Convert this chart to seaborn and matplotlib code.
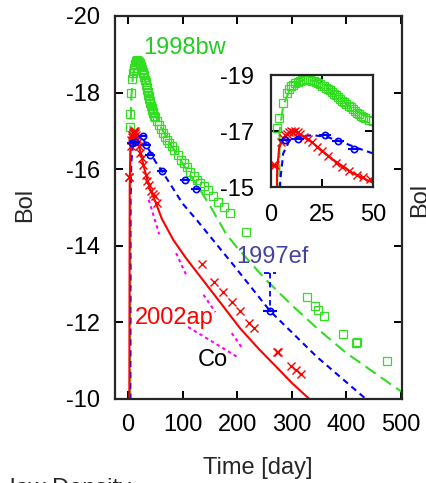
import numpy as np
import pandas as pd
import matplotlib
matplotlib.use('Agg')
import matplotlib.pyplot as plt
import seaborn as sns

sns.set_style('ticks')
plt.rcParams['font.family'] = ['Liberation Sans', 'DejaVu Sans']
plt.rcParams['axes.unicode_minus'] = False

# SN 1998bw (green squares + model)
bw_day = [3, 4, 6, 8, 9, 10, 11, 12, 13, 14, 15, 16, 17, 18, 19, 20, 21, 22, 23, 24,
          25, 26, 27, 28, 29, 30, 31, 32, 33, 34, 35, 36, 37, 38, 39, 40, 41, 42, 43, 44,
          45, 46, 48, 50, 53, 56, 60, 64, 68, 71, 75, 80, 85, 92, 97, 102, 108, 114, 120,
          126, 132, 140, 147, 155, 165, 175, 187, 216, 328, 342, 348, 359, 394, 418, 420, 474]
bw_mag = [-17.1, -17.45, -18.0, -18.35, -18.5, -18.6, -18.65, -18.72, -18.75, -18.8,
          -18.82, -18.82, -18.85, -18.83, -18.82, -18.8, -18.78, -18.75, -18.7, -18.68,
          -18.62, -18.6, -18.55, -18.5, -18.45, -18.4, -18.33, -18.28, -18.2, -18.15,
          -18.08, -18.02, -17.95, -17.9, -17.84, -17.78, -17.72, -17.66, -17.6, -17.55,
          -17.5, -17.46, -17.4, -17.35, -17.25, -17.15, -17.05, -16.95, -16.85, -16.76,
          -16.68, -16.6, -16.5, -16.37, -16.25, -16.15, -16.05, -15.93, -15.82, -15.72,
          -15.64, -15.55, -15.46, -15.3, -15.14, -15.0, -14.86, -14.36, -12.66, -12.43,
          -12.32, -12.17, -11.7, -11.46, -11.49, -11.0]
bw_model_day = [3.8, 4.2, 6, 9, 13, 17, 22, 28, 35, 42, 50, 60, 80, 100, 130, 150, 180,
                200, 250, 300, 350, 400, 450, 510]
bw_model_mag = [-8.0, -17.0, -17.9, -18.45, -18.75, -18.85, -18.78, -18.5, -18.1, -17.7,
                -17.4, -17.1, -16.6, -16.15, -15.5, -15.05, -14.3, -13.95, -13.15, -12.45,
                -11.8, -11.2, -10.7, -10.1]

# SN 2002ap (red crosses + model)
ap_day = [1, 2, 5, 6, 7, 8, 9, 10, 11, 12, 13, 14, 16, 18, 20, 22.5, 25, 28, 32, 35, 38,
          42, 45, 48.5, 53, 136, 158, 174, 190, 205, 222, 231, 272, 274, 298, 307, 316]
ap_mag = [-15.8, -15.8, -16.6, -16.75, -16.85, -16.9, -16.95, -17.0, -16.96, -17.0,
          -16.95, -16.9, -16.8, -16.72, -16.6, -16.43, -16.3, -16.12, -15.86, -15.7,
          -15.58, -15.43, -15.35, -15.29, -15.12, -13.52, -13.05, -12.8, -12.53, -12.3,
          -11.98, -11.85, -11.23, -11.22, -10.86, -10.76, -10.65]
ap_model_day = [2.0, 3, 4, 6, 8, 10, 13, 16, 20, 25, 30, 35, 40, 45, 50, 62, 83, 105,
                132, 170, 205, 240, 273, 300, 340]
ap_model_mag = [-8.0, -15.6, -16.4, -16.75, -16.9, -17.0, -16.95, -16.8, -16.6, -16.3,
                -16.0, -15.75, -15.5, -15.32, -15.15, -14.7, -14.15, -13.7, -13.2, -12.5,
                -11.85, -11.3, -10.82, -10.42, -9.9]

# SN 1997ef (blue circles + model)
ef_day = [7, 13, 26.5, 33, 40.6, 62, 104, 124, 260]
ef_mag = [-16.68, -16.72, -16.86, -16.64, -16.36, -15.95, -15.72, -15.48, -12.3]
ef_xerr_main = [9, 9, 9, 9, 9, 9, 9, 9, 12]
ef_xerr_inset = [3, 3, 3, 3, 3, 3, 3, 3, 3]
ef_model_day = [4, 4.5, 6, 9, 14, 20, 27, 35, 42, 50, 62, 80, 100, 126, 150, 193, 260,
                346, 440]
ef_model_mag = [-8.0, -15.2, -16.2, -16.65, -16.8, -16.85, -16.8, -16.6, -16.4, -16.2,
                -15.95, -15.55, -15.1, -14.67, -14.25, -13.5, -12.3, -11.1, -9.95]

# Co decay slope segments (magenta)
co_day0 = [38, 88, 138, 190, 110]
co_mag0 = [-15.2, -13.81, -12.72, -11.72, -11.88]
co_day1 = [57, 108, 160, 209, 200]
co_mag1 = [-14.3, -13.19, -12.27, -11.33, -11.1]

green = '#33dd22'
green_txt = '#22cc22'
red = '#ff0000'
blue = '#0000ff'
magenta = '#ff00ff'

bw = pd.DataFrame({'day': bw_day, 'mag': bw_mag})
ap = pd.DataFrame({'day': ap_day, 'mag': ap_mag})
ef = pd.DataFrame({'day': ef_day, 'mag': ef_mag})
bw_m = pd.DataFrame({'day': bw_model_day, 'mag': bw_model_mag})
ap_m = pd.DataFrame({'day': ap_model_day, 'mag': ap_model_mag})
ef_m = pd.DataFrame({'day': ef_model_day, 'mag': ef_model_mag})

fig = plt.figure(figsize=(4.26, 4.83), dpi=100)
ax = fig.add_axes([115/426, 84/483, 287/426, 383/483])
axi = fig.add_axes([271/426, 296/483, 102/426, 112/483])


def draw(a, xerr, ms):
    sns.lineplot(data=bw_m, x='day', y='mag', ax=a, color=green, lw=1.5,
                 linestyle=(0, (6, 3)), sort=False, estimator=None)
    sns.lineplot(data=ef_m, x='day', y='mag', ax=a, color=blue, lw=1.5,
                 linestyle=(0, (3, 2.2)), sort=False, estimator=None)
    sns.lineplot(data=ap_m, x='day', y='mag', ax=a, color=red, lw=1.5,
                 sort=False, estimator=None)
    a.plot(bw['day'], bw['mag'], 's', mfc='none', mec=green, ms=ms, mew=0.9)
    a.plot(ap['day'], ap['mag'], 'x', color=red, ms=ms, mew=1.0)
    a.errorbar(ef['day'], ef['mag'], xerr=xerr, fmt='o', mfc='none', mec=blue,
               ecolor=blue, ms=ms - 1, mew=1.2, elinewidth=1.5, capsize=0)


draw(ax, ef_xerr_main, 5.5)
draw(axi, ef_xerr_inset, 5.5)

# upper error on last 1997ef point
eb = ax.errorbar([ef_day[-1]], [ef_mag[-1]], yerr=[[1.0], [0.0]], fmt='none',
                 ecolor=blue, elinewidth=1.3, capsize=0)
for c in eb[2]:
    c.set_linestyle((0, (3, 2)))
ax.plot([ef_day[-1] - 11, ef_day[-1] + 11], [ef_mag[-1] - 1.0] * 2, color=blue,
        lw=1.3, linestyle=(0, (3, 2)))

for d0, m0, d1, m1 in zip(co_day0, co_mag0, co_day1, co_mag1):
    ax.plot([d0, d1], [m0, m1], color=magenta, lw=1.5, linestyle=(0, (1.6, 1.6)))

ax.set_xlim(-24, 502)
ax.set_ylim(-10, -20)
ax.set_xticks([0, 100, 200, 300, 400, 500])
ax.set_yticks([-20, -18, -16, -14, -12, -10])
axi.set_xlim(0, 50)
axi.set_ylim(-15, -19)
axi.set_xticks([0, 25, 50])
axi.set_yticks([-19, -17, -15])

for a, pad in ((ax, 11), (axi, 12)):
    a.set_xlabel('')
    a.set_ylabel('')
    a.tick_params(direction='in', length=6, width=1.4, top=True, right=True,
                  labelsize=17, pad=pad, colors='black')
    for s in a.spines.values():
        s.set_linewidth(1.6)
        s.set_visible(True)

ax.text(27.5, -19.16, '1998bw', color=green_txt, fontsize=17, va='center')
ax.text(198, -13.71, '1997ef', color='#4444a0', fontsize=17, va='center')
ax.text(12.8, -12.11, '2002ap', color=red, fontsize=17, va='center')
ax.text(128, -11.02, 'Co', color='black', fontsize=17, va='center')

fig.text(258/426, 1 - 468/483, 'Time [day]', fontsize=17, ha='center', va='center')
fig.text(25/426, 1 - 205/483, 'Bol', fontsize=17, rotation=90, ha='center', va='center')
fig.text(420/426, 1 - 200/483, 'Bol', fontsize=17, rotation=90, ha='center', va='center')
fig.text(10/426, -12/483, 'low Density', fontsize=17, ha='left', va='baseline')
fig.text(60/426, 1 + 5/483, 'Heavy and Energetic', fontsize=19, fontweight='bold',
         color=green_txt, ha='left', va='baseline')

fig.savefig('out.png', dpi=100)
